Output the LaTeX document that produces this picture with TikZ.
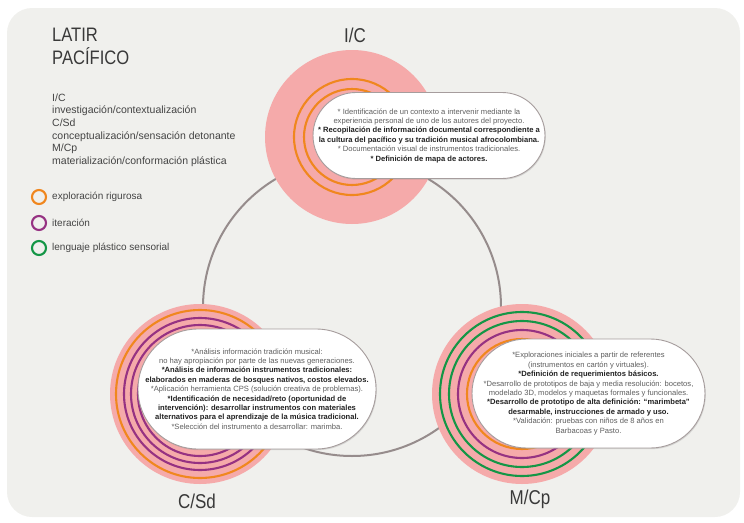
\documentclass[tikz,border=0pt]{standalone}
\usepackage{fontspec}
\setmainfont{Liberation Sans}
\newfontfamily\narrowfont{Liberation Sans}[FakeStretch=0.85]
\usepackage{xcolor}
\usepackage{pgf, tikz}
\usetikzlibrary{shapes.misc, shadows}

\definecolor{panelgray}{RGB}{240,240,237}
\definecolor{rosefill}{RGB}{245,170,170}
\definecolor{ringorange}{RGB}{240,135,30}
\definecolor{ringpurple}{RGB}{150,50,130}
\definecolor{ringgreen}{RGB}{20,150,70}
\definecolor{loopgray}{RGB}{150,140,140}
\definecolor{textgray}{RGB}{95,95,95}
\definecolor{textdark}{RGB}{35,35,35}

\newcommand{\boldline}[1]{{\bfseries\color{textdark}#1}}

\tikzset{
    phase/.style={circle, fill=rosefill, minimum size=#1, inner sep=0pt},
    ring/.style={line width=2.1pt},
    bubble/.style={draw=loopgray!85, fill=white, line width=0.9pt, align=center, inner sep=0pt,
        text=textgray, font=\fontsize{7.6}{9.4}\selectfont,
        drop shadow={opacity=0.25, shadow xshift=0.8pt, shadow yshift=-1.2pt}},
    title/.style={font=\narrowfont\fontsize{20}{22}\selectfont, text=textdark!90},
}

\begin{document}
\begin{tikzpicture}[x=1pt, y=-1pt]
        \useasboundingbox (0, 0) rectangle (744, 522);
        \fill[panelgray, rounded corners=25pt] (7, 8) rectangle (740, 517);

        % loop between the phases
        \coordinate (hub) at (352, 307);
        \draw[loopgray, line width=2pt] (hub) circle (149pt);

        % I/C
        \node[phase=174pt] (ic) at (352, 137) {};
        \draw[ring, ringorange] (ic) circle (58pt);
        \draw[ring, ringorange] (ic) circle (48pt);

        % C/Sd
        \node[phase=180pt] (csd) at (200, 394) {};
        \draw[ring, ringorange] (csd) circle (84pt);
        \draw[ring, ringpurple] (csd) circle (76pt);
        \draw[ring, ringpurple] (csd) circle (69pt);
        \draw[ring, ringpurple] (csd) circle (62pt);

        % M/Cp
        \node[phase=180pt] (mcp) at (522, 394) {};
        \draw[ring, ringgreen] (mcp) circle (82pt);
        \draw[ring, ringgreen] (mcp) circle (73pt);
        \draw[ring, ringpurple] (mcp) circle (64pt);
        \draw[ring, ringorange] (mcp) circle (55pt);

        \node[bubble, minimum width=232pt, minimum height=86pt, rounded corners=43pt] (icnotes) at (429, 135.5) {%
            * Identificación de un contexto a intervenir mediante la\\
            experiencia personal de uno de los autores del proyecto.\\
            \boldline{* Recopilación de información documental correspondiente a}\\
            \boldline{la cultura del pacífico y su tradición musical afrocolombiana.}\\
            * Documentación visual de instrumentos tradicionales.\\
            \boldline{* Definición de mapa de actores.}};

        \node[bubble, minimum width=238pt, minimum height=120pt, rounded corners=60pt] (csdnotes) at (257, 389) {%
            *Análisis información tradición musical:\\
            no hay apropiación por parte de las nuevas generaciones.\\
            \boldline{*Análisis de información instrumentos tradicionales:}\\
            \boldline{elaborados en maderas de bosques nativos, costos elevados.}\\
            *Aplicación herramienta CPS (solución creativa de problemas).\\
            \boldline{*Identificación de necesidad/reto (oportunidad de}\\
            \boldline{intervención): desarrollar instrumentos con materiales}\\
            \boldline{alternativos para el aprendizaje de la música tradicional.}\\
            *Selección del instrumento a desarrollar: marimba.};

        \node[bubble, minimum width=233pt, minimum height=109pt, rounded corners=54.5pt] (mcpnotes) at (588.5, 393.5) {%
            *Exploraciones iniciales a partir de referentes\\
            (instrumentos en cartón y virtuales).\\
            \boldline{*Definición de requerimientos básicos.}\\
            *Desarrollo de prototipos de baja y media resolución: bocetos,\\
            modelado 3D, modelos y maquetas formales y funcionales.\\
            \boldline{*Desarrollo de prototipo de alta definición: “marimbeta”}\\
            \boldline{desarmable, instrucciones de armado y uso.}\\
            *Validación: pruebas con niños de 8 años en\\
            Barbacoas y Pasto.};

        \node[title] (ictitle) at (355, 35) {I/C};
        \node[title] (csdtitle) at (197, 501) {C/Sd};
        \node[title] (mcptitle) at (530, 499) {M/Cp};

        % heading and key
        \node[anchor=north west, inner sep=0pt, align=left, text=textdark!90,
              font=\narrowfont\fontsize{19.5}{23}\selectfont] (brand) at (52, 28) {LATIR\\PACÍFICO};
        \node[anchor=north west, inner sep=0pt, align=left, text=textdark!85,
              font=\fontsize{10.5}{12.6}\selectfont] (glossary) at (52, 93.5) {%
            I/C\\
            investigación/contextualización\\
            C/Sd\\
            conceptualización/sensación detonante\\
            M/Cp\\
            materialización/conformación plástica};

        \draw[ring, ringorange] (39, 197) circle (7pt);
        \draw[ring, ringpurple] (39, 223) circle (7pt);
        \draw[ring, ringgreen] (39, 248) circle (7pt);
        \node[anchor=west, inner sep=0pt, text=textdark!85, font=\fontsize{10}{12}\selectfont] (keyorange) at (52, 197) {exploración rigurosa};
        \node[anchor=west, inner sep=0pt, text=textdark!85, font=\fontsize{10}{12}\selectfont] (keypurple) at (52, 223) {iteración};
        \node[anchor=west, inner sep=0pt, text=textdark!85, font=\fontsize{10}{12}\selectfont] (keygreen) at (52, 248) {lenguaje plástico sensorial};
    \end{tikzpicture}
\end{document}
